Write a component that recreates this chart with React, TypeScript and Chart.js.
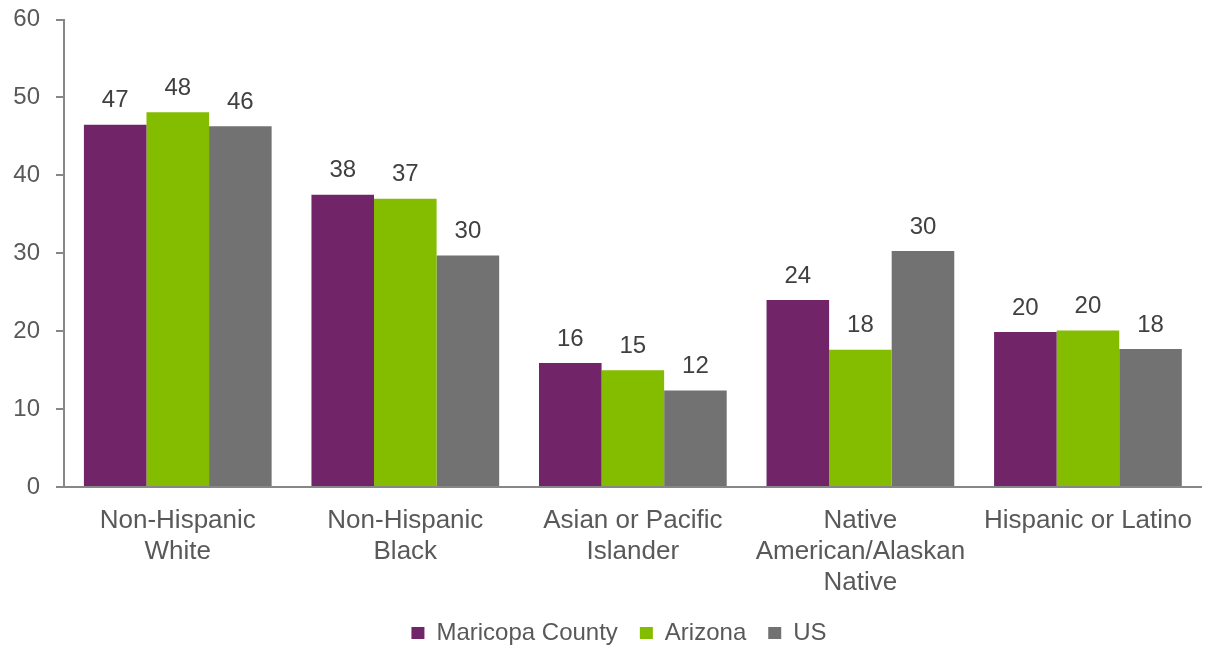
import React, { useEffect, useRef } from "react";
import { Chart, registerables } from "chart.js";

Chart.register(...registerables);

const categories: string[][] = [
  ["Non-Hispanic", "White"],
  ["Non-Hispanic", "Black"],
  ["Asian or Pacific", "Islander"],
  ["Native", "American/Alaskan", "Native"],
  ["Hispanic or Latino"],
];
const maricopa = [46.5, 37.5, 15.9, 24.0, 19.9];
const arizona = [48.1, 37.0, 15.0, 17.6, 20.1];
const us = [46.3, 29.7, 12.4, 30.3, 17.7];
const yTicks = [0, 10, 20, 30, 40, 50, 60];

const FONT = "'Liberation Sans', Arial, sans-serif";
const LEGEND_PAD = 22;
const LEGEND_FONT = 24;

const dataLabelPlugin = {
  id: "dataLabels",
  afterDatasetsDraw(chart: any) {
    const ctx = chart.ctx;
    ctx.save();
    ctx.font = `24px ${FONT}`;
    ctx.fillStyle = "#404040";
    ctx.textAlign = "center";
    ctx.textBaseline = "middle";
    chart.data.datasets.forEach((ds: any, i: number) => {
      const meta = chart.getDatasetMeta(i);
      meta.data.forEach((bar: any, j: number) => {
        const v = ds.data[j];
        ctx.fillText(String(Math.round(v)), bar.x, bar.y - 24);
      });
    });
    ctx.restore();
  },
};

const legendShiftPlugin = {
  id: "legendShift",
  afterLayout(chart: any) {
    const lg = chart.legend;
    if (!lg) return;
    const dx = 14;
    const dy = 633 - (lg.top + LEGEND_PAD + LEGEND_FONT / 2);
    lg.left += dx;
    lg.right += dx;
    lg.top += dy;
    lg.bottom += dy;
  },
};

export default function App() {
  const ref = useRef<HTMLCanvasElement | null>(null);
  useEffect(() => {
    if (!ref.current) return;
    const chart = new Chart(ref.current, {
      type: "bar",
      data: {
        labels: categories,
        datasets: [
          { label: "Maricopa County", data: maricopa, backgroundColor: "#712467" },
          { label: "Arizona", data: arizona, backgroundColor: "#84BC00" },
          { label: "US", data: us, backgroundColor: "#717271" },
        ],
      },
      options: {
        animation: false,
        responsive: true,
        maintainAspectRatio: false,
        datasets: {
          bar: { categoryPercentage: 0.825, barPercentage: 1 },
        },
        layout: { padding: { left: 0, right: 0, top: 19.5, bottom: 0 } },
        plugins: {
          tooltip: { enabled: false },
          legend: {
            position: "bottom",
            labels: {
              font: { family: FONT, size: LEGEND_FONT },
              color: "#595959",
              boxWidth: 13,
              boxHeight: 12,
              padding: LEGEND_PAD,
            },
          },
        },
        scales: {
          x: {
            grid: { display: false, drawTicks: false },
            border: { display: true, color: "#878787", width: 2 },
            ticks: {
              font: { family: FONT, size: 26, lineHeight: 31 / 26 },
              color: "#595959",
              padding: 18,
              maxRotation: 0,
              autoSkip: false,
            },
            afterFit: (s: any) => {
              s.height = 107;
            },
          },
          y: {
            min: 0,
            max: 60,
            afterBuildTicks: (s: any) => {
              s.ticks = yTicks.map((v) => ({ value: v }));
            },
            grid: {
              drawOnChartArea: false,
              drawTicks: true,
              tickLength: 8,
              color: "#878787",
              lineWidth: 2,
            },
            border: { display: true, color: "#878787", width: 2 },
            ticks: {
              font: { family: FONT, size: 24 },
              color: "#595959",
              padding: 16,
            },
            afterFit: (s: any) => {
              s.width = 64;
              s.paddingTop = 0;
              s.paddingBottom = 0;
            },
          },
        },
      },
      plugins: [dataLabelPlugin, legendShiftPlugin],
    });
    return () => chart.destroy();
  }, []);
  return (
    <div style={{ position: "absolute", left: 0, top: 0, width: 1210, height: 650 }}>
      <canvas ref={ref} />
    </div>
  );
}
